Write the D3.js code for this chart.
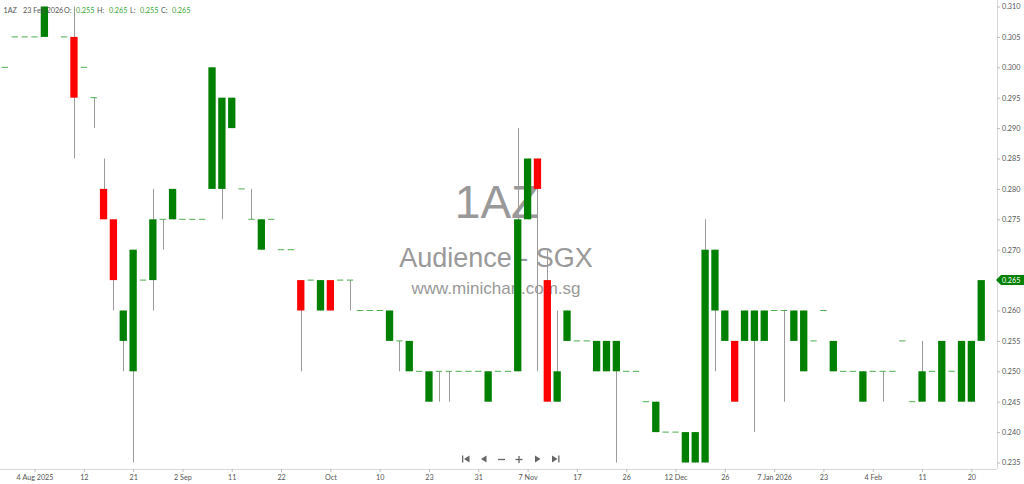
<!DOCTYPE html>
<html>
<head>
<meta charset="utf-8">
<script src="https://cdn.jsdelivr.net/npm/d3@7/dist/d3.min.js"></script>
<style>
  html, body { margin: 0; padding: 0; background: #fff; }
  svg { display: block; }
</style>
</head>
<body>
<svg id="chart" width="1024" height="484"></svg>
<script>
// ---- data (trading sessions with trades, left to right) ----
const opens  = [0.300,0.305,0.305,0.305,0.305,0.315,0.305,0.305,0.300,0.295,
                0.280,0.275,0.255,0.250,0.265,0.265,0.275,0.275,0.275,0.275,
                0.275,0.280,0.280,0.290,0.280,0.275,0.270,0.275,0.270,0.270,
                0.265,0.265,0.260,0.265,0.265,0.265,0.260,0.260,0.260,0.255,
                0.255,0.250,0.250,0.245,0.250,0.250,0.250,0.250,0.250,0.245,
                0.250,0.250,0.250,0.275,0.285,0.265,0.245,0.255,0.255,0.255,
                0.250,0.250,0.250,0.250,0.250,0.245,0.240,0.240,0.240,0.235,
                0.235,0.235,0.260,0.255,0.255,0.255,0.255,0.255,0.260,0.260,
                0.255,0.250,0.255,0.260,0.250,0.250,0.250,0.245,0.250,0.250,
                0.250,0.255,0.245,0.245,0.250,0.245,0.250,0.245,0.245,0.255];
const highs  = [0.300,0.305,0.305,0.305,0.310,0.315,0.305,0.310,0.300,0.295,
                0.285,0.275,0.260,0.270,0.265,0.280,0.275,0.280,0.275,0.275,
                0.275,0.300,0.295,0.295,0.280,0.280,0.275,0.275,0.270,0.270,
                0.265,0.265,0.265,0.265,0.265,0.265,0.260,0.260,0.260,0.260,
                0.255,0.255,0.250,0.250,0.250,0.250,0.250,0.250,0.250,0.250,
                0.250,0.250,0.290,0.285,0.285,0.270,0.260,0.260,0.255,0.255,
                0.255,0.255,0.255,0.250,0.250,0.245,0.245,0.240,0.240,0.240,
                0.240,0.275,0.270,0.260,0.255,0.260,0.260,0.260,0.260,0.260,
                0.260,0.260,0.255,0.260,0.255,0.250,0.250,0.250,0.250,0.250,
                0.250,0.255,0.245,0.255,0.250,0.255,0.250,0.255,0.255,0.265];
const lows   = [0.300,0.305,0.305,0.305,0.305,0.315,0.305,0.285,0.300,0.290,
                0.275,0.260,0.250,0.235,0.265,0.260,0.270,0.275,0.275,0.275,
                0.275,0.280,0.275,0.290,0.280,0.275,0.270,0.275,0.270,0.270,
                0.250,0.265,0.260,0.260,0.265,0.260,0.260,0.260,0.260,0.255,
                0.250,0.250,0.250,0.245,0.245,0.245,0.250,0.250,0.250,0.245,
                0.250,0.250,0.250,0.275,0.250,0.245,0.245,0.255,0.255,0.255,
                0.250,0.250,0.235,0.250,0.250,0.245,0.240,0.240,0.240,0.235,
                0.235,0.235,0.250,0.255,0.245,0.255,0.240,0.255,0.260,0.245,
                0.255,0.250,0.255,0.260,0.250,0.250,0.250,0.245,0.250,0.245,
                0.250,0.255,0.245,0.245,0.250,0.245,0.250,0.245,0.245,0.255];
const closes = [0.300,0.305,0.305,0.305,0.310,0.315,0.305,0.295,0.300,0.295,
                0.275,0.265,0.260,0.270,0.265,0.275,0.275,0.280,0.275,0.275,
                0.275,0.300,0.295,0.295,0.280,0.275,0.275,0.275,0.270,0.270,
                0.260,0.265,0.265,0.260,0.265,0.265,0.260,0.260,0.260,0.260,
                0.255,0.255,0.250,0.250,0.250,0.250,0.250,0.250,0.250,0.250,
                0.250,0.250,0.275,0.285,0.280,0.245,0.250,0.260,0.255,0.255,
                0.255,0.255,0.255,0.250,0.250,0.245,0.245,0.240,0.240,0.240,
                0.240,0.270,0.270,0.260,0.245,0.260,0.260,0.260,0.260,0.260,
                0.260,0.260,0.255,0.260,0.255,0.250,0.250,0.250,0.250,0.250,
                0.250,0.255,0.245,0.250,0.250,0.255,0.250,0.255,0.255,0.265];

// x-axis tick labels (every 5th session) and the session they sit on
const tickLabels = ["4 Aug 2025","12","21","2 Sep","11","22","Oct","10","23","31",
                    "7 Nov","17","26","12 Dec","26","7 Jan 2026","23","4 Feb","11","20"];
const tickIndex  = [3,8,13,18,23,28,33,38,43,48,53,58,63,68,73,78,83,88,93,98];

const priceTicks = [0.235,0.240,0.245,0.250,0.255,0.260,0.265,0.270,0.275,0.280,0.285,0.290,0.295,0.300,0.305,0.310];

const symbol = "1AZ";
const companyName = "Audience - SGX";
const siteName = "www.minichart.com.sg";
const lastDate = "23 Feb 2026";

// ---- layout ----
const plotRight = 997, plotBottom = 469;
const FONT = "Lato, 'Open Sans', sans-serif";
const SMALL = 7.2;
const UP = "#008000", DOWN = "#ff0000", DOJI = "#4cae4c", WICK = "#9a9a9a";

const svg = d3.select("#chart");
const data = opens.map((o, i) => ({ i, o, h: highs[i], l: lows[i], c: closes[i] }));

const x = d3.scaleLinear().domain([-0.5, 100.6]).range([0, plotRight]);
const y = d3.scaleLinear().domain([0.235, 0.310]).range([462.5, 6.5]);
const step = x(1) - x(0);
const bodyW = step * 0.74;

svg.append("defs").append("clipPath").attr("id", "plotClip")
  .append("rect").attr("x", 0).attr("y", 0).attr("width", plotRight).attr("height", plotBottom);

// ---- watermark ----
const wm = svg.append("g").attr("fill", "#999").attr("text-anchor", "middle")
  .style("font-family", "'Liberation Sans', Arial, sans-serif");
wm.append("text").attr("x", 497).attr("y", 218).attr("font-size", 46).text(symbol);
wm.append("text").attr("x", 496).attr("y", 267).attr("font-size", 27).text(companyName);
wm.append("text").attr("x", 496).attr("y", 294).attr("font-size", 17).text(siteName);

// ---- candles ----
const plot = svg.append("g").attr("clip-path", "url(#plotClip)");

plot.selectAll("line.wick").data(data.filter(d => d.h > d.l)).join("line")
  .attr("class", "wick")
  .attr("x1", d => Math.round(x(d.i)) + 0.5).attr("x2", d => Math.round(x(d.i)) + 0.5)
  .attr("y1", d => y(d.h)).attr("y2", d => y(d.l))
  .attr("stroke", WICK).attr("stroke-width", 1);

plot.selectAll("rect.body").data(data.filter(d => d.o !== d.c)).join("rect")
  .attr("class", "body")
  .attr("x", d => x(d.i) - bodyW / 2).attr("width", bodyW)
  .attr("y", d => y(Math.max(d.o, d.c)))
  .attr("height", d => Math.abs(y(d.o) - y(d.c)))
  .attr("fill", d => d.c > d.o ? UP : DOWN);

plot.selectAll("line.doji").data(data.filter(d => d.o === d.c)).join("line")
  .attr("class", "doji")
  .attr("x1", d => x(d.i) - bodyW / 2 + 0.5).attr("x2", d => x(d.i) + bodyW / 2 - 0.5)
  .attr("y1", d => y(d.c)).attr("y2", d => y(d.c))
  .attr("stroke", DOJI).attr("stroke-width", 1);

// ---- axes ----
const yAxis = d3.axisRight(y).tickValues(priceTicks).tickFormat(d3.format(".3f")).tickSize(3).tickPadding(2);
const gy = svg.append("g").attr("transform", `translate(${plotRight},0)`).call(yAxis);
gy.select(".domain").attr("stroke", "#d8d8d8").attr("d", `M0.5,0V${plotBottom}`);
gy.selectAll(".tick line").attr("stroke", "#bbb");
gy.selectAll(".tick text").attr("fill", "#555").style("font-family", FONT).attr("font-size", SMALL);

const xAxis = d3.axisBottom(x).tickValues(tickIndex)
  .tickFormat((d, k) => tickLabels[k]).tickSize(3).tickPadding(3);
const gx = svg.append("g").attr("transform", `translate(0,${plotBottom})`).call(xAxis);
gx.select(".domain").attr("stroke", "#d8d8d8").attr("d", `M0,0.5H${plotRight}`);
gx.selectAll(".tick line").attr("stroke", "#bbb");
gx.selectAll(".tick text").attr("fill", "#555").style("font-family", FONT).attr("font-size", SMALL);

// ---- last price tag ----
const last = data[data.length - 1];
const ty = y(last.c);
svg.append("path")
  .attr("d", `M${plotRight - 1},${ty} L${plotRight + 4},${ty - 5} H1024 V${ty + 5} H${plotRight + 4} Z`)
  .attr("fill", UP);
svg.append("text").attr("x", plotRight + 5).attr("y", ty + 2.8)
  .attr("fill", "#fff").attr("font-size", SMALL).style("font-family", FONT).text(d3.format(".3f")(last.c));

// ---- header ----
const hdr = svg.append("g").style("font-family", FONT).attr("font-size", SMALL);
const fmt = d3.format(".3f");
const hdrItems = [
  [3.5, symbol, "#555"], [23, lastDate, "#555"], [64, "O:", "#555"], [76, fmt(last.o), "#3aa63a"],
  [97, "H:", "#555"], [109, fmt(last.h), "#3aa63a"], [130, "L:", "#555"], [140, fmt(last.l), "#3aa63a"],
  [161, "C:", "#555"], [172, fmt(last.c), "#3aa63a"]
];
hdr.selectAll("text").data(hdrItems).join("text")
  .attr("x", d => d[0]).attr("y", 13).attr("fill", d => d[2]).text(d => d[1]);

// ---- navigation buttons ----
const nav = svg.append("g").attr("fill", "#666").attr("stroke", "#666");
const ny = 459;
nav.append("rect").attr("x", 462).attr("y", ny - 3.5).attr("width", 1.3).attr("height", 7).attr("stroke", "none");
nav.append("path").attr("d", `M464,${ny} L469.5,${ny - 3.5} V${ny + 3.5} Z`).attr("stroke", "none");
nav.append("path").attr("d", `M481,${ny} L486.5,${ny - 3.5} V${ny + 3.5} Z`).attr("stroke", "none");
nav.append("line").attr("x1", 498).attr("x2", 505).attr("y1", ny + 0.5).attr("y2", ny + 0.5).attr("stroke-width", 1.3);
nav.append("line").attr("x1", 515.5).attr("x2", 522.5).attr("y1", ny + 0.5).attr("y2", ny + 0.5).attr("stroke-width", 1.3);
nav.append("line").attr("x1", 519).attr("x2", 519).attr("y1", ny - 3).attr("y2", ny + 4).attr("stroke-width", 1.3);
nav.append("path").attr("d", `M540.5,${ny} L535,${ny - 3.5} V${ny + 3.5} Z`).attr("stroke", "none");
nav.append("path").attr("d", `M557.5,${ny} L552,${ny - 3.5} V${ny + 3.5} Z`).attr("stroke", "none");
nav.append("rect").attr("x", 558.2).attr("y", ny - 3.5).attr("width", 1.3).attr("height", 7).attr("stroke", "none");
</script>
</body>
</html>
